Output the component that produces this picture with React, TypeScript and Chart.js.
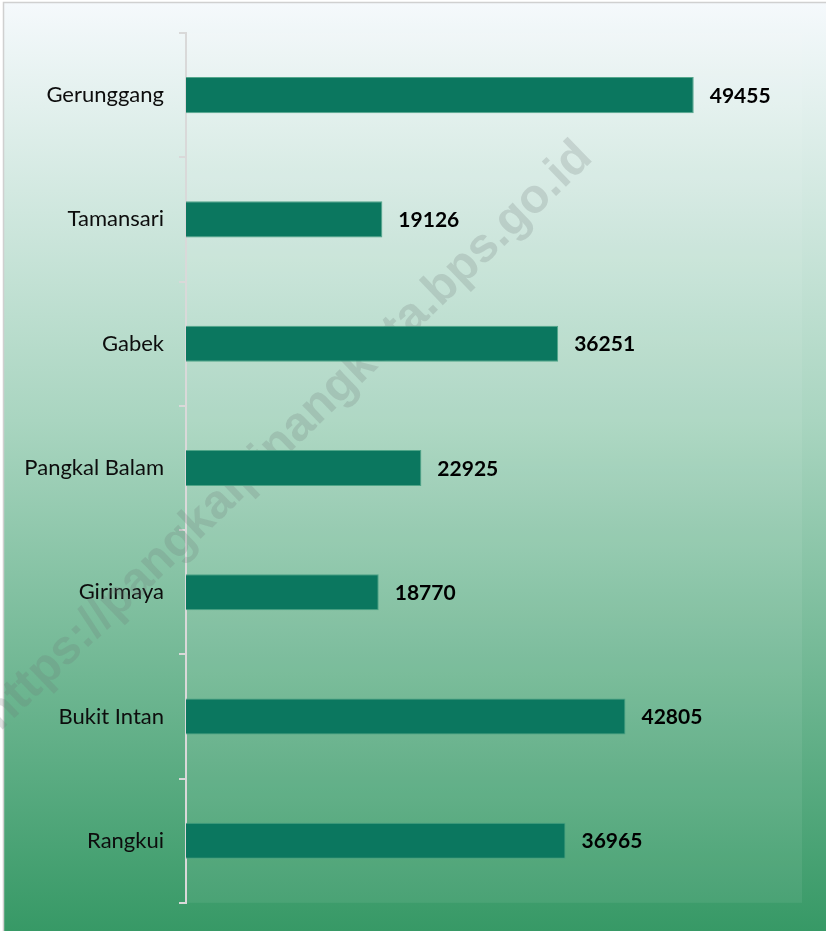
import React, { useEffect, useRef } from "react";
import { Chart, registerables } from "chart.js";

Chart.register(...registerables);

const categories = ["Gerunggang", "Tamansari", "Gabek", "Pangkal Balam", "Girimaya", "Bukit Intan", "Rangkui"];
const values = [49455, 19126, 36251, 22925, 18770, 42805, 36965];
const watermarkText = "https://pangkalpinangkota.bps.go.id";
const xMin = 0;
const xMax = 60000;

const FONT = "Lato, 'Open Sans', sans-serif";

const backgroundPlugin = {
  id: "bgPlugin",
  beforeDraw(chart: any) {
    const { ctx, width, height, chartArea } = chart;
    ctx.save();
    ctx.fillStyle = "#ffffff";
    ctx.fillRect(0, 0, width, height);
    const g = ctx.createLinearGradient(0, 3, 0, height);
    g.addColorStop(0, "#f5f9fc");
    g.addColorStop(0.45, "#a9d5c0");
    g.addColorStop(1, "#379966");
    ctx.fillStyle = g;
    ctx.fillRect(4, 3, width - 4, height - 3);
    ctx.strokeStyle = "#d0d0d0";
    ctx.lineWidth = 1.5;
    ctx.beginPath();
    ctx.moveTo(3.5, height);
    ctx.lineTo(3.5, 2.5);
    ctx.lineTo(width, 2.5);
    ctx.stroke();
    ctx.fillStyle = "rgba(255,255,255,0.07)";
    ctx.fillRect(chartArea.left, chartArea.top, chartArea.right - chartArea.left, chartArea.bottom - chartArea.top);
    ctx.restore();
  },
  beforeDatasetsDraw(chart: any) {
    const { ctx } = chart;
    ctx.save();
    ctx.translate(288, 436);
    ctx.rotate(-Math.atan2(578, 600));
    let size = 48;
    ctx.font = `bold ${size}px 'Liberation Sans', Arial, sans-serif`;
    const w = ctx.measureText(watermarkText).width;
    size = size * 825 / w;
    ctx.font = `bold ${size}px 'Liberation Sans', Arial, sans-serif`;
    ctx.fillStyle = "rgba(110,120,118,0.22)";
    ctx.textAlign = "center";
    ctx.textBaseline = "middle";
    ctx.fillText(watermarkText, 0, 0);
    ctx.restore();
  },
  afterDatasetsDraw(chart: any) {
    const { ctx } = chart;
    const meta = chart.getDatasetMeta(0);
    ctx.save();
    ctx.font = `bold 21px ${FONT}`;
    ctx.fillStyle = "#000000";
    ctx.textAlign = "left";
    ctx.textBaseline = "middle";
    meta.data.forEach((bar: any, i: number) => {
      ctx.fillText(String(values[i]), bar.x + 16, bar.y + 1);
    });
    ctx.restore();
  },
};

export default function App() {
  const ref = useRef<HTMLCanvasElement | null>(null);
  useEffect(() => {
    document.body.style.margin = "0";
    if (!ref.current) return;
    const chart = new Chart(ref.current, {
      type: "bar",
      data: {
        labels: categories,
        datasets: [
          {
            data: values,
            backgroundColor: "#0b775f",
            borderColor: "rgba(70,160,130,0.9)",
            borderWidth: 1,
            barPercentage: 0.29,
            categoryPercentage: 1,
          },
        ],
      },
      options: {
        indexAxis: "y",
        responsive: false,
        animation: false,
        devicePixelRatio: 1,
        layout: { padding: { top: 33, bottom: 24, left: 0, right: 24 } },
        plugins: { legend: { display: false }, tooltip: { enabled: false } },
        scales: {
          x: { display: false, min: xMin, max: xMax },
          y: {
            afterFit(scale: any) {
              scale.width = 186;
            },
            border: { display: true, color: "#d9d9d9", width: 2 },
            grid: { display: true, drawOnChartArea: false, offset: true, tickLength: 7, color: "#d9d9d9", lineWidth: 2 },
            ticks: { color: "#0d0d0d", font: { family: FONT, size: 22 }, padding: 15 },
          },
        },
      },
      plugins: [backgroundPlugin],
    } as any);
    return () => chart.destroy();
  }, []);
  return <canvas ref={ref} width={826} height={931} style={{ display: "block" }} />;
}
